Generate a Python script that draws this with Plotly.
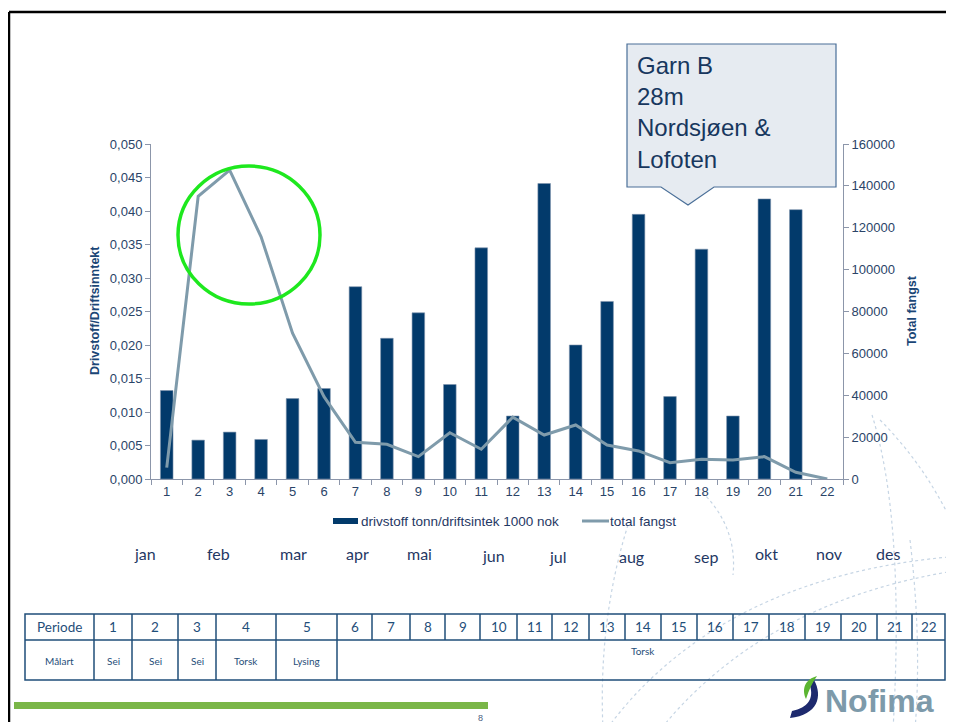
import plotly.graph_objects as go

W, H = 954, 722
OFF = 8  # default body margin of the html page

# ---------------- data ----------------
periods = [str(i) for i in range(1, 23)]
fuel_ratio = [0.0132, 0.0058, 0.0070, 0.0059, 0.0120, 0.0135, 0.0287, 0.0210, 0.0248, 0.0141,
              0.0345, 0.0094, 0.0441, 0.0200, 0.0265, 0.0395, 0.0123, 0.0343, 0.0094, 0.0418,
              0.0402, None]
total_catch = [5400, 135000, 147500, 115700, 69600, 39300, 17500, 16600, 10700, 22100,
               14200, 29500, 21000, 25800, 16200, 13400, 7800, 9400, 9100, 10700,
               3200, 0]
left_ticks = [0, 0.005, 0.01, 0.015, 0.02, 0.025, 0.03, 0.035, 0.04, 0.045, 0.05]
left_tick_text = ["0,000", "0,005", "0,010", "0,015", "0,020", "0,025", "0,030", "0,035",
                  "0,040", "0,045", "0,050"]
right_ticks = [0, 20000, 40000, 60000, 80000, 100000, 120000, 140000, 160000]
right_tick_text = ["0", "20000", "40000", "60000", "80000", "100000", "120000", "140000", "160000"]
months = ["jan", "feb", "mar", "apr", "mai", "jun", "jul", "aug", "sep", "okt", "nov", "des"]
month_x = [145, 218, 293, 357, 419, 493, 558, 631, 706, 766, 829, 888]
month_y = [553, 553, 553, 553, 553, 555, 556, 556, 556, 553, 553, 553]
table_periods = ["Periode"] + [str(i) for i in range(1, 23)]
table_species = ["Målart", "Sei", "Sei", "Sei", "Torsk", "Lysing"]
table_species_rest = "Torsk"
callout_text = "Garn B<br>28m<br>Nordsjøen &<br>Lofoten"
bar_name = "drivstoff tonn/driftsintek 1000 nok"
line_name = "total fangst"

NAVY = "#023a6b"
LINE = "#7f9bab"
TXT = "#1f3864"
TITLE = "#1b4676"
TICK = "#2a4468"
TBL = "#1f4e79"
AXIS = "#8c96aa"


def px(x):
    return (x - OFF) / W


def py(y):
    return 1 - (y - OFF) / H


fig = go.Figure()
fig.add_trace(go.Bar(x=periods, y=fuel_ratio, name=bar_name, width=0.4,
                     marker=dict(color=NAVY, line=dict(color="#7f93ad", width=0.6)),
                     yaxis="y", showlegend=False))
fig.add_trace(go.Scatter(x=periods, y=total_catch, name=line_name, mode="lines",
                         line=dict(color=LINE, width=3), yaxis="y2", showlegend=False))

FONT = "Liberation Sans, Arial, sans-serif"
CAL = "Lato, Open Sans, sans-serif"

fig.update_layout(
    width=W, height=H, margin=dict(l=0, r=0, t=0, b=0, autoexpand=False),
    paper_bgcolor="white", plot_bgcolor="rgba(0,0,0,0)",
    font=dict(family=FONT, size=13, color=TICK),
    xaxis=dict(domain=[px(151), px(843)], type="category", showline=True, linecolor=AXIS,
               linewidth=1, ticks="outside", tickson="boundaries", ticklen=5, tickcolor=AXIS,
               showgrid=False, automargin=False, tickfont=dict(size=13, color=TICK, family=FONT)),
    yaxis=dict(domain=[py(479), py(144)], range=[0, 0.05], showline=True, linecolor=AXIS,
               linewidth=1, ticks="outside", ticklen=5, tickcolor=AXIS, showgrid=False,
               tickvals=left_ticks, ticktext=left_tick_text, zeroline=False, automargin=False,
               tickfont=dict(size=13, color=TICK, family=FONT)),
    yaxis2=dict(overlaying="y", side="right", range=[0, 160000], showline=True, linecolor=AXIS,
                linewidth=1, ticks="outside", ticklen=5, tickcolor=AXIS, showgrid=False,
                tickvals=right_ticks, ticktext=right_tick_text, zeroline=False, automargin=False,
                anchor="x", tickfont=dict(size=13, color=TICK, family=FONT)),
)

shapes = []
ann = []


def text(x, y, t, size, color, family=FONT, xanchor="center", yanchor="middle", **kw):
    ann.append(dict(xref="paper", yref="paper", x=px(x), y=py(y), text=t, showarrow=False,
                    xanchor=xanchor, yanchor=yanchor, font=dict(size=size, color=color, family=family), **kw))


# slide frame
shapes.append(dict(type="line", xref="paper", yref="paper", x0=px(9), x1=px(970), y0=py(12), y1=py(12),
                   line=dict(color="black", width=2.5)))
shapes.append(dict(type="line", xref="paper", yref="paper", x0=px(9), x1=px(9), y0=py(12), y1=py(730),
                   line=dict(color="black", width=2.5)))

# decorative dotted arcs (background swirl)
for p in ["M 872,415 Q 905,520 893,730",
          "M 960,556 Q 720,575 606,730",
          "M 960,570 Q 765,600 660,730",
          "M 628,525 Q 598,620 603,730",
          "M 698,488 Q 738,525 733,575",
          "M 910,540 Q 922,640 915,730",
          "M 880,420 Q 930,470 960,540"]:
    pts = p.replace("M", "").replace("Q", "").split()
    vals = []
    for t in pts:
        a, b = t.split(",")
        vals.append(f"{px(float(a))},{py(float(b))}")
    path = f"M {vals[0]} Q {vals[1]} {vals[2]}"
    shapes.append(dict(type="path", xref="paper", yref="paper", path=path,
                       line=dict(color="#c6d5e4", width=1.2, dash="dot"), layer="below"))

# axis titles
text(95, 311, "<b>Drivstoff/Driftsinntekt</b>", 12.5, TITLE, textangle=-90)
text(912, 311, "<b>Total fangst</b>", 12.5, TITLE, textangle=-90)

# green circle
shapes.append(dict(type="circle", xref="paper", yref="paper", x0=px(178), x1=px(320), y0=py(304), y1=py(166),
                   line=dict(color="#1ee81e", width=3.5)))

# callout
cpts = [(627, 44), (836, 44), (836, 187), (714, 187), (688, 205), (661, 187), (627, 187)]
path = "M " + " L ".join(f"{px(a)},{py(b)}" for a, b in cpts) + " Z"
shapes.append(dict(type="path", xref="paper", yref="paper", path=path, fillcolor="#e6ebf1",
                   line=dict(color="#4a6f98", width=1.2)))
text(635, 50, callout_text, 24, "#17375e", xanchor="left", yanchor="top", align="left")

# custom legend
shapes.append(dict(type="rect", xref="paper", yref="paper", x0=px(333), x1=px(358), y0=py(524), y1=py(518),
                   fillcolor=NAVY, line=dict(width=0)))
text(359, 521, bar_name, 13.5, TXT, xanchor="left")
shapes.append(dict(type="line", xref="paper", yref="paper", x0=px(582), x1=px(609), y0=py(521), y1=py(521),
                   line=dict(color=LINE, width=3)))
text(608, 521, line_name, 13.5, TXT, xanchor="left")

# months
for m, x, y in zip(months, month_x, month_y):
    text(x, y, m, 16, TXT, family=CAL)

# table
col_edges = [25, 94, 132, 178, 216, 276, 337, 372, 410, 445, 480, 517, 552, 589, 625, 661,
             697, 733, 769, 805, 841, 877, 912, 945]
ytop, ymid, ybot = 614, 640, 680
tline = dict(color=TBL, width=1.5)
shapes.append(dict(type="rect", xref="paper", yref="paper", x0=px(25), x1=px(col_edges[-1]), y0=py(ybot),
                   y1=py(ytop), line=tline))
shapes.append(dict(type="line", xref="paper", yref="paper", x0=px(25), x1=px(col_edges[-1]), y0=py(ymid),
                   y1=py(ymid), line=tline))
for i, xe in enumerate(col_edges[1:-1], start=1):
    y_end = ybot if i <= 6 else ymid
    shapes.append(dict(type="line", xref="paper", yref="paper", x0=px(xe), x1=px(xe), y0=py(ytop), y1=py(y_end),
                       line=tline))
for i, label in enumerate(table_periods):
    cx = (col_edges[i] + col_edges[i + 1]) / 2
    text(cx, 627, label, 13.5, TBL, family=CAL)
for i, label in enumerate(table_species):
    cx = (col_edges[i] + col_edges[i + 1]) / 2
    text(cx, 661, label, 10, TBL, family=CAL)
text(643, 651, table_species_rest, 10, TBL, family=CAL)

# green footer bar
shapes.append(dict(type="rect", xref="paper", yref="paper", x0=px(14), x1=px(488), y0=py(709), y1=py(702),
                   fillcolor="#7ab648", line=dict(width=0)))
text(480, 718, "8", 9, "#4a6080")

# Nofima logo
swoosh = (f"M {px(814)},{py(680)} C {px(823)},{py(696)} {px(818)},{py(715)} {px(790)},{py(718)} "
          f"L {px(792)},{py(711)} C {px(808)},{py(708)} {px(814)},{py(698)} {px(810)},{py(686)} Z")
shapes.append(dict(type="path", xref="paper", yref="paper", path=swoosh, fillcolor="#1e2a6e",
                   line=dict(width=0)))
leaf = (f"M {px(806)},{py(699)} C {px(801)},{py(688)} {px(806)},{py(679)} {px(817)},{py(676)} "
        f"C {px(812)},{py(683)} {px(809)},{py(690)} {px(806)},{py(699)} Z")
shapes.append(dict(type="path", xref="paper", yref="paper", path=leaf, fillcolor="#5bb531",
                   line=dict(width=0)))
text(823, 701, "<b>Nofima</b>", 32, "#7d9aaa", xanchor="left")

fig.update_layout(shapes=shapes, annotations=ann)
fig.write_html("out.html")
